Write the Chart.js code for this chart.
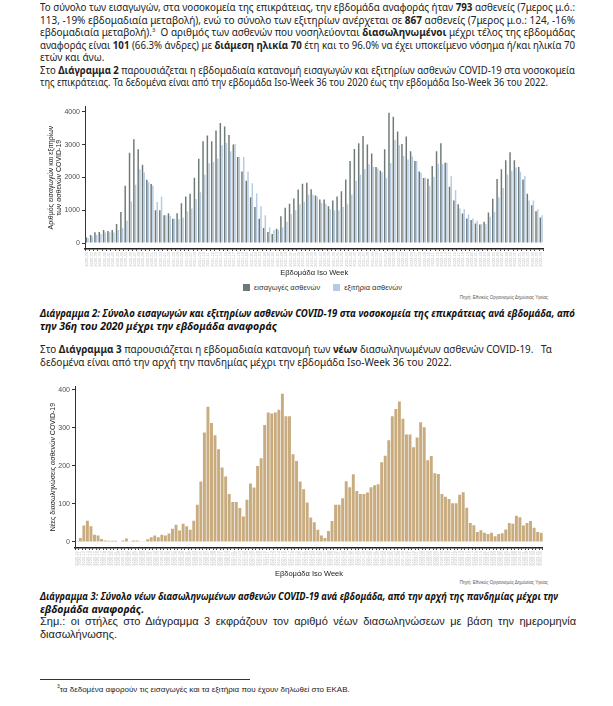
<!DOCTYPE html>
<html lang="el">
<head>
<meta charset="utf-8">
<script src="https://cdn.jsdelivr.net/npm/chart.js@4.4.1/dist/chart.umd.min.js"></script>
<style>
  body { margin: 0; background: #fff; }
  #page { position: relative; width: 613px; height: 706px; overflow: hidden; font-family: "Noto Sans", sans-serif; color: #222; }
  .blk { position: absolute; left: 40px; }
  .ln { white-space: nowrap; transform-origin: 0 50%; }
  .p1 { top: 1px; font-size: 10px; line-height: 12.5px; }
  .cap { font-weight: bold; font-style: italic; font-size: 10.5px; line-height: 12.5px; color: #111; }
  .note { font-family: "Liberation Sans", Arial, sans-serif; font-size: 11px; line-height: 12.5px; }
  sup { font-size: 6px; line-height: 0; }
  .src { position: absolute; right: 65px; font-family: "Liberation Sans", Arial, sans-serif; font-size: 4.5px; color: #555; }
  .legend { position: absolute; top: 283px; left: 243px; font-family: "Liberation Sans", Arial, sans-serif; font-size: 7.5px; color: #333; white-space: nowrap; }
  .sw { display: inline-block; width: 7px; height: 7px; vertical-align: -1px; margin-right: 4px; }
  .box { position: absolute; }
</style>
</head>
<body>
<div id="page">

  <div class="blk p1">
    <div class="ln" data-w="535" data-j="1"><span>Το σύνολο των εισαγωγών, στα νοσοκομεία της επικράτειας, την εβδομάδα αναφοράς ήταν <b>793</b> ασθενείς (7μερος μ.ό.:</span></div>
    <div class="ln" data-w="535" data-j="1"><span>113, -19% εβδομαδιαία μεταβολή), ενώ το σύνολο των εξιτηρίων ανέρχεται σε <b>867</b> ασθενείς (7μερος μ.ο.: 124, -16%</span></div>
    <div class="ln" data-w="535" data-j="1"><span>εβδομαδιαία μεταβολή).<sup>3</sup>&nbsp; Ο αριθμός των ασθενών που νοσηλεύονται <b>διασωληνωμένοι</b> μέχρι τέλος της εβδομάδας</span></div>
    <div class="ln" data-w="535" data-j="1"><span>αναφοράς είναι <b>101</b> (66.3% άνδρες) με <b>διάμεση ηλικία 70</b> έτη και το 96.0% να έχει υποκείμενο νόσημα ή/και ηλικία 70</span></div>
    <div class="ln" data-w="535"><span>ετών και άνω.</span></div>
    <div class="ln" data-w="535" data-j="1"><span>Στο <b>Διάγραμμα 2</b> παρουσιάζεται η εβδομαδιαία κατανομή εισαγωγών και εξιτηρίων ασθενών COVID-19 στα νοσοκομεία</span></div>
    <div class="ln" data-w="508"><span>της επικράτειας. Τα δεδομένα είναι από την εβδομάδα Iso-Week 36 του 2020 έως την εβδομάδα Iso-Week 36 του 2022.</span></div>
  </div>

  <div class="box" style="left:40px;top:100px;"><canvas id="chart2" width="507" height="177"></canvas></div>
  <div class="legend" id="legend2"></div>
  <div class="src" style="top:295px;">Πηγή: Εθνικός Οργανισμός Δημόσιας Υγείας</div>

  <div class="blk cap" style="top:307px;">
    <div class="ln" data-w="535" data-j="1"><span>Διάγραμμα 2: Σύνολο εισαγωγών και εξιτηρίων ασθενών COVID-19 στα νοσοκομεία της επικράτειας ανά εβδομάδα, από</span></div>
    <div class="ln" data-w="535"><span>την 36η του 2020 μέχρι την εβδομάδα αναφοράς</span></div>
  </div>

  <div class="blk p1" style="top:343px;">
    <div class="ln" data-w="512" data-j="1"><span>Στο <b>Διάγραμμα 3</b> παρουσιάζεται η εβδομαδιαία κατανομή των <b>νέων</b> διασωληνωμένων ασθενών COVID-19. &nbsp; Τα</span></div>
    <div class="ln" data-w="512"><span>δεδομένα είναι από την αρχή την πανδημίας μέχρι την εβδομάδα Iso-Week 36 του 2022.</span></div>
  </div>

  <div class="box" style="left:40px;top:380px;"><canvas id="chart3" width="507" height="198"></canvas></div>
  <div class="src" style="top:580px;">Πηγή: Εθνικός Οργανισμός Δημόσιας Υγείας</div>

  <div class="blk cap" style="top:590px;">
    <div class="ln" data-w="518" data-j="1"><span>Διάγραμμα 3: Σύνολο νέων διασωληνωμένων ασθενών COVID-19 ανά εβδομάδα, από την αρχή της πανδημίας μέχρι την</span></div>
    <div class="ln" data-w="518"><span>εβδομάδα αναφοράς.</span></div>
  </div>

  <div class="blk note" style="top:615px;">
    <div class="ln" data-w="536" data-j="1"><span>Σημ.: οι στήλες στο Διάγραμμα 3 εκφράζουν τον αριθμό νέων διασωληνώσεων με βάση την ημερομηνία</span></div>
    <div class="ln" data-w="536"><span>διασωλήνωσης.</span></div>
  </div>

  <div style="position:absolute;left:40px;top:679px;width:210px;height:1px;background:#333;"></div>
  <div style="position:absolute;left:57px;top:685px;font-family:'Liberation Sans',Arial,sans-serif;font-size:8px;color:#222;"><sup style="font-size:5px">3</sup>τα δεδομένα αφορούν τις εισαγωγές και τα εξιτήρια που έχουν δηλωθεί στο ΕΚΑΒ.</div>
</div>

<script>
// DATA - Diagram 2 (weekly admissions / discharges, 2020-W36 .. 2022-W36)
const admissions = [
  180, 250, 330, 340, 400, 370, 400, 580, 950, 1750,
  2750, 3160, 2860, 2390, 1930, 1800, 1000, 1000, 850, 910,
  740, 910, 1210, 1420, 1500, 1990, 2570, 3100, 3280, 3100,
  3430, 3660, 3550, 3290, 3000, 2620, 2180, 1900, 1400, 1100,
  740, 460, 340, 280, 440, 820, 1080, 1200, 1360, 1630,
  1810, 1840, 1640, 1450, 1330, 1330, 1120, 1300, 1420, 1580,
  1940, 2500, 2870, 3040, 3260, 3000, 2730, 2320, 2200, 2860,
  3970, 3850, 3400, 3020, 3250, 2800, 2500, 2180, 1980, 1960,
  2350, 2800, 3040, 2450, 1720, 1300, 1180, 900, 750, 700,
  600, 570, 650, 930, 1350, 1950, 2250, 2520, 2770, 2520,
  2320, 1940, 1500, 1150, 970, 780
];
const discharges = [
  150, 200, 250, 280, 320, 330, 320, 400, 470, 680,
  1270, 1780, 2250, 2150, 1850, 1750, 1250, 1420, 850, 830,
  740, 730, 770, 960, 1050, 1340, 1550, 2080, 2430, 2470,
  2580, 2980, 3050, 2800, 3020, 2620, 2620, 2180, 1820, 1520,
  1120, 850, 480, 400, 400, 480, 650, 880, 1000, 1180,
  1250, 1470, 1470, 1420, 1220, 1200, 1040, 1000, 1000, 1100,
  1180, 1480, 1900, 2080, 2260, 2400, 2320, 2270, 2160, 1980,
  2440, 3150, 2980, 2650, 2550, 2640, 2500, 2150, 2000, 1750,
  2020, 2420, 2400, 2450, 2040, 1620, 1050, 1040, 880, 750,
  680, 580, 580, 800, 950, 1400, 1680, 2080, 2200, 2300,
  2170, 2040, 1300, 1300, 1030, 850
];
const seriesNames = ["εισαγωγές ασθενών", "εξιτήρια ασθενών"];
const yTicks2 = [0, 1000, 2000, 3000, 4000];

// DATA - Diagram 3 (new intubated patients, 2020-W10 .. 2022-W36)
const intubated = [
  2, 10, 43, 56, 41, 19, 17, 8, 4, 3,
  3, 3, 1, 4, 9, 2, 4, 4, 2, 2,
  7, 12, 17, 12, 19, 17, 22, 35, 45, 30,
  48, 41, 32, 56, 98, 159, 288, 356, 313, 281,
  244, 196, 172, 126, 105, 105, 89, 67, 111, 154,
  143, 200, 220, 308, 341, 338, 341, 348, 390, 331,
  331, 231, 213, 159, 139, 104, 64, 52, 32, 17,
  10, 29, 55, 98, 98, 115, 160, 144, 178, 134,
  126, 126, 130, 144, 149, 152, 210, 227, 268, 331,
  350, 370, 324, 283, 283, 249, 275, 315, 302, 215,
  226, 181, 179, 126, 119, 113, 102, 102, 124, 131,
  90, 50, 44, 26, 31, 24, 21, 24, 15, 21,
  23, 33, 50, 48, 69, 65, 43, 50, 55, 37,
  26, 24
];
const yTicks3 = [0, 100, 200, 300, 400];

// ISO week labels for the x axis
function weekLabels(year, week, count) {
  const out = [];
  for (let i = 0; i < count; i++) {
    out.push(year + "-" + String(week).padStart(2, "0"));
    week++;
    if (week > (year === 2020 ? 53 : 52)) { week = 1; year++; }
  }
  return out;
}
const weeks2 = weekLabels(2020, 36, admissions.length);
const weeks3 = weekLabels(2020, 10, intubated.length);

const DARK = "#6e7a77";
const LIGHT = "#b6cbe3";
const TAN = "#c8ab7e";
const axisFont = { family: "'Liberation Sans', Arial, sans-serif" };

// JUSTIFY TEXT LINES
function fitLines() {
  document.querySelectorAll(".ln").forEach(function (el) {
    const target = Number(el.dataset.w);
    const w = el.firstElementChild.getBoundingClientRect().width;
    if (w > target) {
      el.style.width = w + "px";
      el.style.transform = "scaleX(" + (target / w) + ")";
    } else {
      el.style.width = target + "px";
    }
    if (el.dataset.j) {
      el.style.whiteSpace = "normal";
      el.style.textAlign = "justify";
      el.style.textAlignLast = "justify";
    }
  });
}
fitLines();

// LEGEND
const legendEl = document.getElementById("legend2");
legendEl.innerHTML =
  '<span class="sw" style="background:' + DARK + '"></span>' + seriesNames[0] +
  '<span style="display:inline-block;width:13px"></span>' +
  '<span class="sw" style="background:' + LIGHT + '"></span>' + seriesNames[1];

function keepTicks(values) {
  return function (scale) {
    scale.ticks = values.map(function (v) { return { value: v }; });
  };
}
function plainNumber(value) {
  return String(value);
}

// DIAGRAM 2
new Chart(document.getElementById("chart2"), {
  type: "bar",
  data: {
    labels: weeks2,
    datasets: [
      { label: seriesNames[0], data: admissions, backgroundColor: DARK, categoryPercentage: 0.8, barPercentage: 0.85 },
      { label: seriesNames[1], data: discharges, backgroundColor: LIGHT, categoryPercentage: 0.8, barPercentage: 0.85 }
    ]
  },
  options: {
    responsive: false,
    animation: false,
    devicePixelRatio: 1,
    layout: { padding: { top: 5, right: 3, left: 0, bottom: 0 } },
    plugins: { legend: { display: false }, tooltip: { enabled: false } },
    scales: {
      x: {
        ticks: { autoSkip: false, maxRotation: 90, minRotation: 90, padding: 1, color: "#c4c4c4", font: Object.assign({ size: 4 }, axisFont) },
        grid: { drawOnChartArea: false, tickLength: 2, color: "#444" },
        border: { color: "#222", width: 1.5 },
        title: { display: true, text: "Εβδομάδα Iso Week", color: "#222", padding: 0, font: Object.assign({ size: 7.5 }, axisFont) },
        afterFit: function (s) { s.height = 28; }
      },
      y: {
        min: -180,
        max: 4170,
        afterBuildTicks: keepTicks(yTicks2),
        ticks: { callback: plainNumber, color: "#4d4d4d", padding: 2, font: Object.assign({ size: 7 }, axisFont) },
        grid: { drawOnChartArea: false, tickLength: 3, color: "#333" },
        border: { color: "#333", width: 1 },
        title: { display: true, text: ["Αριθμός εισαγωγών και εξιτηρίων", "των ασθενών COVID-19"], color: "#222", padding: { top: 7 }, font: Object.assign({ size: 7, lineHeight: 1.15 }, axisFont) },
        afterFit: function (s) { s.width = 45; }
      }
    }
  }
});

// DIAGRAM 3
new Chart(document.getElementById("chart3"), {
  type: "bar",
  data: {
    labels: weeks3,
    datasets: [
      { label: "Νέες διασωληνώσεις", data: intubated, backgroundColor: TAN, categoryPercentage: 1, barPercentage: 0.82 }
    ]
  },
  options: {
    responsive: false,
    animation: false,
    devicePixelRatio: 1,
    layout: { padding: { top: 6, right: 3, left: 0, bottom: 0 } },
    plugins: { legend: { display: false }, tooltip: { enabled: false } },
    scales: {
      x: {
        ticks: { autoSkip: false, maxRotation: 90, minRotation: 90, padding: 1, color: "#c4c4c4", font: Object.assign({ size: 4 }, axisFont) },
        grid: { drawOnChartArea: false, tickLength: 2, color: "#444" },
        border: { color: "#222", width: 1.5 },
        title: { display: true, text: "Εβδομάδα Iso Week", color: "#222", padding: 0, font: Object.assign({ size: 7.5 }, axisFont) },
        afterFit: function (s) { s.height = 30; }
      },
      y: {
        min: -16,
        max: 410,
        afterBuildTicks: keepTicks(yTicks3),
        ticks: { callback: plainNumber, color: "#4d4d4d", padding: 2, font: Object.assign({ size: 7 }, axisFont) },
        grid: { drawOnChartArea: false, tickLength: 3, color: "#333" },
        border: { color: "#333", width: 1 },
        title: { display: true, text: "Νέες διασωληνώσεις ασθενών COVID-19", color: "#222", padding: { top: 9 }, font: Object.assign({ size: 7 }, axisFont) },
        afterFit: function (s) { s.width = 35; }
      }
    }
  }
});
</script>
</body>
</html>
